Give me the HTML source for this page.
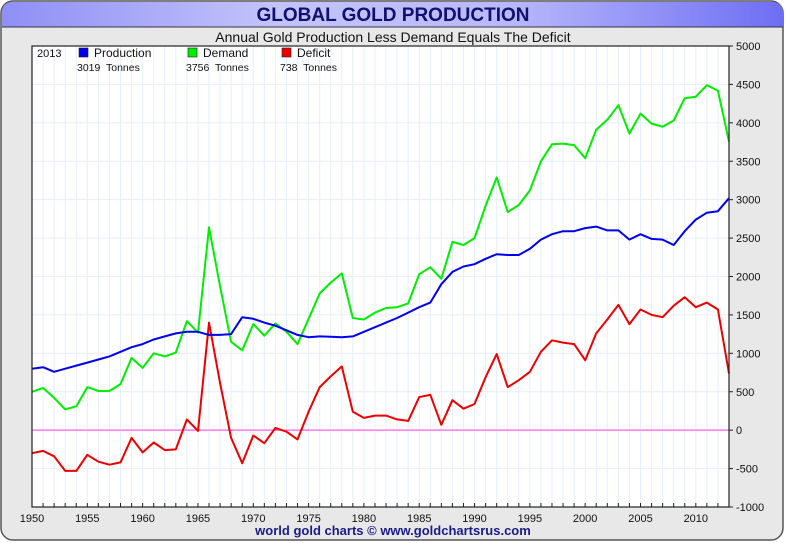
<!DOCTYPE html>
<html><head><meta charset="utf-8"><style>
html,body{margin:0;padding:0;background:#fff;}
svg{display:block;font-family:"Liberation Sans",sans-serif;}
</style></head><body>
<svg id="chart" width="786" height="543" viewBox="0 0 786 543">
<defs>
<linearGradient id="tb" x1="0" x2="1" y1="0" y2="0">
<stop offset="0" stop-color="#8f8ff5"/><stop offset="0.35" stop-color="#c3c3fb"/><stop offset="0.65" stop-color="#b8b8fb"/><stop offset="1" stop-color="#6e6ef3"/>
</linearGradient>
</defs>
<rect x="1" y="1" width="782" height="539" rx="12" fill="#e8e8e8" stroke="#555" stroke-width="1.5"/>
<path d="M2,27 L2,13 Q2,2 13,2 L772,2 Q783,2 783,13 L783,27 Z" fill="url(#tb)"/>
<line x1="2" y1="27" x2="783" y2="27" stroke="#334" stroke-width="1"/>
<text x="393" y="21" text-anchor="middle" font-size="19" font-weight="bold" fill="#101070">GLOBAL GOLD PRODUCTION</text>
<text x="393" y="42" text-anchor="middle" font-size="14" fill="#111">Annual Gold Production Less Demand Equals The Deficit</text>
<rect x="32" y="46" width="697" height="461" fill="#fff"/>
<g id="grid"></g>
<g id="series"></g>
<rect x="32" y="46" width="697" height="461" fill="none" stroke="#222" stroke-width="1.2"/>
<g id="axes"></g>
<g>
<text x="37" y="57" font-size="11" fill="#111">2013</text>
<rect x="79" y="48" width="9" height="9" fill="#0000ee" stroke="#222" stroke-width="0.6"/>
<text x="94" y="57" font-size="12" fill="#111">Production</text>
<text x="77" y="71" font-size="10.5" fill="#111">3019&#160; Tonnes</text>
<rect x="188" y="48" width="9" height="9" fill="#00ee00" stroke="#222" stroke-width="0.6"/>
<text x="203" y="57" font-size="12" fill="#111">Demand</text>
<text x="186" y="71" font-size="10.5" fill="#111">3756&#160; Tonnes</text>
<rect x="282" y="48" width="9" height="9" fill="#ee0000" stroke="#222" stroke-width="0.6"/>
<text x="297" y="57" font-size="12" fill="#111">Deficit</text>
<text x="280" y="71" font-size="10.5" fill="#111">738&#160; Tonnes</text>
</g>
<text x="393" y="535" text-anchor="middle" font-size="13" font-weight="bold" fill="#1a1a8a">world gold charts © www.goldchartsrus.com</text>
</svg>
<script>
const years = [];
for (let y = 1950; y <= 2013; y++) years.push(y);
const production = [800,820,760,800,840,880,920,960,1020,1080,1120,1180,1220,1260,1280,1280,1240,1240,1250,1470,1450,1400,1360,1300,1240,1210,1220,1215,1210,1220,1280,1340,1400,1460,1530,1600,1660,1900,2060,2130,2160,2230,2290,2280,2280,2360,2480,2550,2590,2590,2630,2650,2600,2600,2480,2550,2490,2480,2410,2590,2740,2830,2850,3019];
const demand = [500,550,420,270,310,560,510,510,600,940,810,1000,960,1010,1420,1270,2640,1870,1150,1040,1380,1230,1390,1280,1120,1450,1780,1920,2040,1460,1440,1530,1590,1600,1650,2030,2120,1970,2450,2410,2500,2920,3290,2840,2930,3120,3500,3720,3730,3710,3540,3910,4040,4230,3860,4120,3990,3950,4030,4320,4340,4490,4420,3756];
const deficit = [-300,-270,-340,-530,-530,-320,-410,-450,-420,-100,-290,-160,-260,-250,140,-10,1400,610,-100,-430,-70,-170,30,-20,-120,240,560,700,830,240,160,190,190,140,120,430,460,70,390,280,340,690,990,560,650,760,1020,1170,1140,1120,910,1260,1440,1630,1380,1570,1500,1470,1620,1730,1600,1660,1570,738];
const yTicks = [-1000,-500,0,500,1000,1500,2000,2500,3000,3500,4000,4500,5000];
const xTickLabels = [1950,1955,1960,1965,1970,1975,1980,1985,1990,1995,2000,2005,2010];

const L=32,R=729,T=46,B=507;
const xS = y => L + (y-1950)*(R-L)/63;
const yS = v => B - (v+1000)*(B-T)/6000;
const NS='http://www.w3.org/2000/svg';
function mk(tag, attrs, parent){const e=document.createElementNS(NS,tag);for(const k in attrs)e.setAttribute(k,attrs[k]);parent.appendChild(e);return e;}
const grid=document.getElementById('grid'), axes=document.getElementById('axes'), series=document.getElementById('series');
years.forEach(y=>{
  const l=mk('line',{x1:xS(y),x2:xS(y),y1:T,y2:B,stroke:'#e6eefc','stroke-width':1},grid);
  
  
  const t=mk('line',{x1:xS(y),x2:xS(y),y1:B,y2:B-4,stroke:'#222','stroke-width':1},axes);
  
  
});
yTicks.forEach(v=>{
  if(v!==0){
    const l=mk('line',{x1:L,x2:R,y1:yS(v),y2:yS(v),stroke:'#e6eefc','stroke-width':1},grid);
    
    
  }
  const tk=mk('line',{x1:R,x2:R+4,y1:yS(v),y2:yS(v),stroke:'#222','stroke-width':1},axes);
  
  
  const t=mk('text',{x:R+7,y:yS(v)+4,'font-size':11,fill:'#111'},axes);
  t.textContent=v;
  
  
});
xTickLabels.forEach(y=>{
  const t=mk('text',{x:xS(y),y:522,'font-size':11,fill:'#111','text-anchor':'middle'},axes);
  t.textContent=y;
  
  
});
const zl=mk('line',{x1:L,x2:R,y1:yS(0),y2:yS(0),stroke:'#ff77ee','stroke-width':1.5},series);


function line(vals,color,name){
  const p=mk('polyline',{points:vals.map((v,i)=>xS(years[i]).toFixed(1)+','+yS(v).toFixed(1)).join(' '),fill:'none',stroke:color,'stroke-width':2,'stroke-linejoin':'round'},series);
  
  
}
line(demand,'#00ee00','demand-line');
line(deficit,'#ee0000','deficit-line');
line(production,'#0000ee','production-line');
</script>
</body></html>
